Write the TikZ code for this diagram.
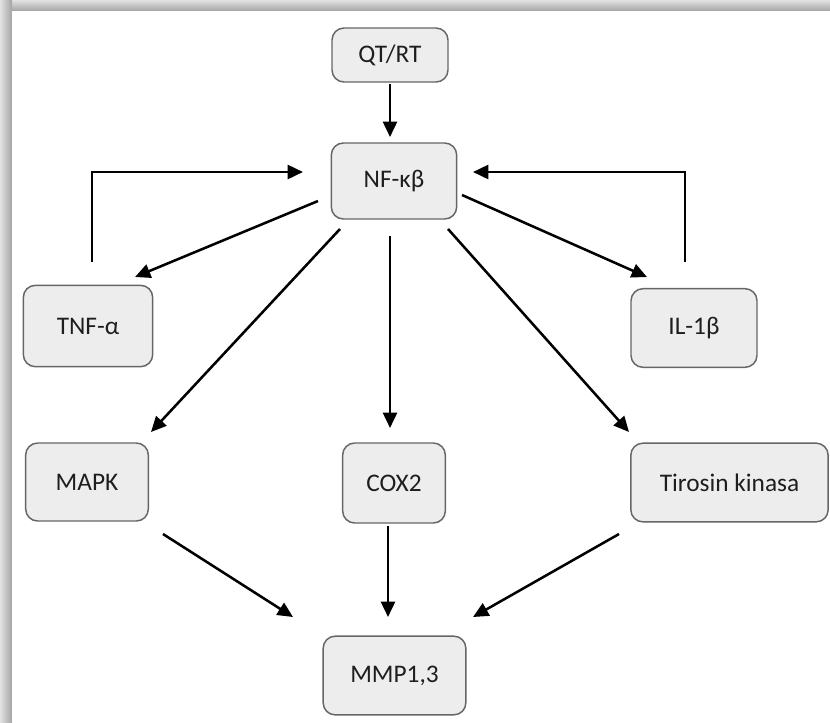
\documentclass[tikz,border=0pt]{standalone}
\usepackage{fontspec}
\setmainfont{Carlito}
\usetikzlibrary{arrows.meta}
\definecolor{boxfill}{HTML}{EDEDED}
\definecolor{boxline}{HTML}{666666}
\definecolor{txt}{HTML}{1E1E1E}
\definecolor{frameA}{HTML}{E2E2E2}
\definecolor{frameB}{HTML}{A4A4A4}
\tikzset{
  box/.style={draw=boxline, fill=boxfill, line width=1.1pt, rounded corners=9pt,
    text=txt, font=\fontsize{19}{22}\selectfont, inner sep=0pt},
  arr/.style={line width=1.9pt, -{Triangle[length=11.5pt,width=10.5pt]}}
}
\begin{document}
\begin{tikzpicture}[x=0.75pt,y=-0.75pt]
\useasboundingbox (0,0) rectangle (830,722);
% frame
\shade[top color=frameA, bottom color=frameB] (0,0) rectangle (830,11);
\shade[left color=frameA, right color=frameB] (0,0) rectangle (12,722);
\fill[white] (12,11) rectangle (830,722);
% nodes
\node[box, minimum width=87pt, minimum height=40.5pt] (qt) at (390,55) {QT/RT};
\node[box, minimum width=94pt, minimum height=57pt] (nf) at (394,181) {NF-κβ};
\node[box, minimum width=97pt, minimum height=61pt] (tnf) at (88,326) {TNF-α};
\node[box, minimum width=94.5pt, minimum height=59pt] (il) at (694,328) {IL-1β};
\node[box, minimum width=92pt, minimum height=58.5pt] (mapk) at (87,482) {MAPK};
\node[box, minimum width=77pt, minimum height=60pt] (cox) at (394,483) {COX2};
\node[box, minimum width=148pt, minimum height=59pt] (tir) at (729.5,482.5) {Tirosin kinasa};
\node[box, minimum width=107pt, minimum height=59pt] (mmp) at (394.5,675.5) {MMP1,3};
% connectors
\draw[arr] ([shift={(0,29)}]qt.center) -- ([shift={(-4,-44)}]nf.center);
\draw[arr] ([shift={(4,-64)}]tnf.center) |- ([shift={(-91,-9)}]nf.center);
\draw[arr] ([shift={(-9,-66)}]il.center) |- ([shift={(79,-9)}]nf.center);
\draw[arr] ([shift={(-76,20)}]nf.center) -- ([shift={(47,-49)}]tnf.center);
\draw[arr] ([shift={(68,14)}]nf.center) -- ([shift={(-47,-51)}]il.center);
\draw[arr] ([shift={(-54,48)}]nf.center) -- ([shift={(64,-50)}]mapk.center);
\draw[arr] ([shift={(-4,55)}]nf.center) -- ([shift={(-4,-55)}]cox.center);
\draw[arr] ([shift={(54,48)}]nf.center) -- ([shift={(-100.5,-50.5)}]tir.center);
\draw[arr] ([shift={(76,52)}]mapk.center) -- ([shift={(-101.5,-58.5)}]mmp.center);
\draw[arr] ([shift={(-6,43)}]cox.center) -- ([shift={(-6.5,-58.5)}]mmp.center);
\draw[arr] ([shift={(-110.5,51.5)}]tir.center) -- ([shift={(78.5,-58.5)}]mmp.center);
\end{tikzpicture}
\end{document}
